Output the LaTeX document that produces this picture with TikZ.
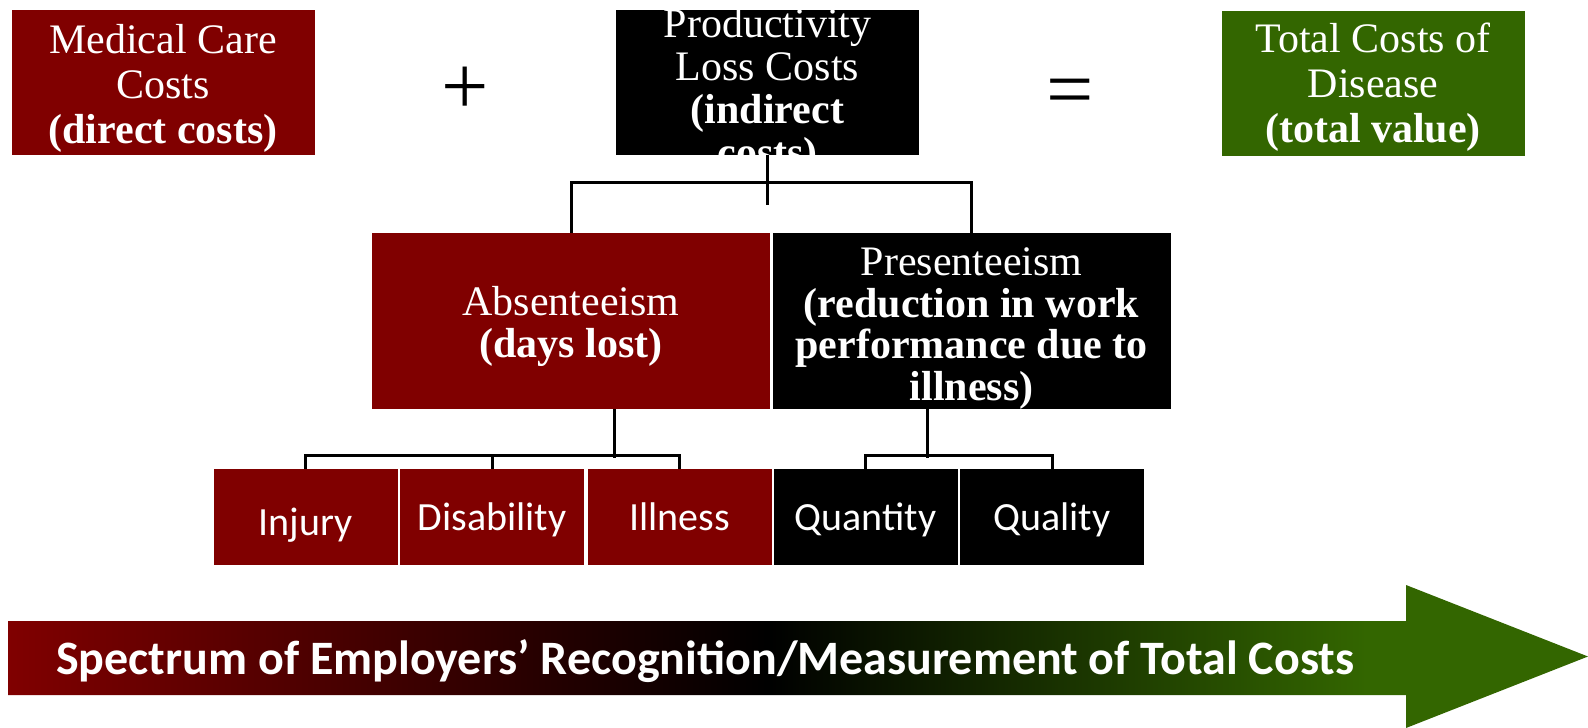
\documentclass[tikz,border=0pt]{standalone}
\usepackage{fontspec}
\setmainfont{Liberation Serif}
\newfontfamily\calibri{Carlito}
\definecolor{costred}{HTML}{800000}
\definecolor{costgreen}{HTML}{336600}
% red -> black -> green along the spectrum arrow
\pgfdeclarehorizontalshading{spectrum}{100bp}{color(0bp)=(costred); color(25bp)=(costred);
  color(49bp)=(black); color(68bp)=(costgreen); color(100bp)=(costgreen)}
\begin{document}
\begin{tikzpicture}[x=1pt,y=-1pt,
    boxtext/.style={inner sep=0pt,text=white,align=center,font=\fontsize{42}{45}\selectfont},
    topbox/.style={inner sep=0pt,minimum width=303pt,minimum height=145pt},
    midbox/.style={inner sep=0pt,minimum width=398pt,minimum height=176pt},
    lowbox/.style={inner sep=0pt,text=white,minimum width=184pt,minimum height=96pt,text depth=3pt,
      font=\calibri\fontsize{40}{44}\selectfont},
    sign/.style={inner sep=0pt,font=\fontsize{84}{84}\selectfont},
    link/.style={line width=3pt}]
  \useasboundingbox (0,0) rectangle (1588,728);
  % top row: direct + indirect = total
  \node[topbox,fill=costred] (med) at (163,82.5) {};
  \node[boxtext,yshift=-5.5pt] (medtext) at (med) {Medical Care\\Costs\\\textbf{(direct costs)}};
  \node[sign] (plus) at (465.5,91) {+};
  \node[topbox,fill=black] (prod) at (767.5,82.5) {};
  \begin{scope}
    \clip (prod.south west) rectangle (prod.north east);
    \node[boxtext,yshift=-9pt,font=\fontsize{42}{43}\selectfont] (prodtext) at (prod)
      {Productivity\\Loss Costs\\\textbf{(indirect}\\\textbf{costs)}};
  \end{scope}
  \node[sign] (equals) at (1070,98) {=};
  \node[topbox,fill=costgreen] (total) at (1373,83) {};
  \node[boxtext,yshift=-4pt] (totaltext) at (total) {Total Costs of\\Disease\\\textbf{(total value)}};
  % second row
  \node[midbox,fill=costred] (abs) at (571,321) {};
  \node[boxtext,yshift=-5.5pt,font=\fontsize{42}{42}\selectfont] (abstext) at (abs)
    {Absenteeism\\\textbf{(days lost)}};
  \node[midbox,fill=black] (pres) at (971.5,321) {};
  \node[boxtext,yshift=-7.5pt,font=\fontsize{42}{41.5}\selectfont] (prestext) at (pres)
    {Presenteeism\\\textbf{(reduction in work}\\\textbf{performance due to}\\\textbf{illness)}};
  % third row
  \foreach \n/\x/\t/\c/\h in {injury/305.5/Injury/costred/39, disab/492/Disability/costred/29,
      illness/679.5/Illness/costred/29, quantity/865.5/Quantity/black/29, quality/1052/Quality/black/29}{
    \node[lowbox,fill=\c,text height=\h pt] (\n) at (\x,517) {\t};
  }
  % brackets
  \draw[link] (prod.south) -- ++(0,50);
  \draw[link] (abs.north) -- ++(0,-50) -| (pres.north);
  \draw[link] ([xshift=43pt]abs.south) -- ++(0,49);
  \draw[link] (injury.north) -- ++(0,-13) -| (illness.north);
  \draw[link] (disab.north) -- ++(0,-13);
  \draw[link] ([xshift=-44.5pt]pres.south) -- ++(0,49);
  \draw[link] (quantity.north) -- ++(0,-13) -| (quality.north);
  % spectrum arrow
  \shade[shading=spectrum] (8,621) -- (1406,621) -- (1406,585) -- (1588,656.5)
    -- (1406,728) -- (1406,695) -- (8,695) -- cycle;
  \node[anchor=base west,inner sep=0pt,text=white,font=\calibri\bfseries\fontsize{48}{48}\selectfont]
    (spectrum) at (56,674) {Spectrum of Employers’ Recognition/Measurement of Total Costs};
\end{tikzpicture}
\end{document}
